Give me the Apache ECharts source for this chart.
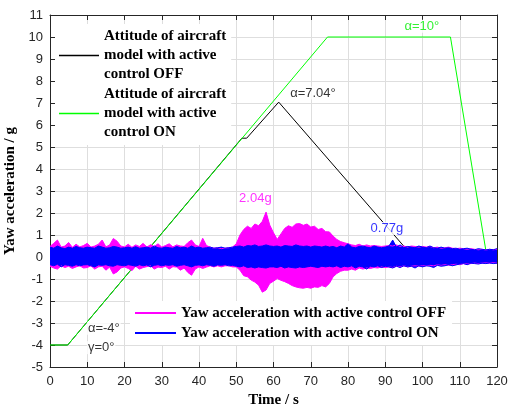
<!DOCTYPE html>
<html>
<head>
<meta charset="utf-8">
<script src="https://cdn.jsdelivr.net/npm/echarts@6/dist/echarts.min.js"></script>
<style>
  html, body { margin: 0; padding: 0; background: #fff; }
  #chart { width: 508px; height: 410px; }
</style>
</head>
<body>
<div id="chart"></div>
<script>
// attitude curves (time s, angle deg)
const offTime = [0, 4.75, 51.5, 52.8, 61.4, 97.5];
const offAngle = [-4, -4, 5.4, 5.4, 7.04, 0];
const onTime = [0, 4.75, 74.5, 107.5, 117.3];
const onAngle = [-4, -4, 10, 10, 0];

// yaw acceleration envelopes (g), one value per second, t = 0..120
const pinkUp = [
  0.48, 0.62, 0.77, 0.45, 0.50, 0.66, 0.44, 0.58, 0.46, 0.52,
  0.62, 0.45, 0.50, 0.58, 0.77, 0.46, 0.55, 0.84, 0.72, 0.50,
  0.46, 0.58, 0.44, 0.55, 0.48, 0.62, 0.45, 0.56, 0.48, 0.60,
  0.45, 0.52, 0.60, 0.46, 0.55, 0.50, 0.48, 0.65, 0.77, 0.55,
  0.48, 0.85, 0.52, 0.45, 0.40, 0.42, 0.38, 0.40, 0.42, 0.45,
  0.60, 1.00, 1.25, 1.40, 1.30, 1.50, 1.42, 1.62, 2.04, 1.45,
  1.10, 0.80, 1.05, 1.30, 1.42, 1.35, 1.50, 1.52, 1.44, 1.50,
  1.36, 1.40, 1.25, 1.30, 1.15, 1.14, 0.95, 0.80, 0.70, 0.65,
  0.60, 0.55, 0.52, 0.58, 0.50, 0.55, 0.50, 0.52, 0.50, 0.48,
  0.50, 0.52, 0.50, 0.55, 0.48, 0.50, 0.45, 0.50, 0.48, 0.45,
  0.48, 0.45, 0.48, 0.42, 0.45, 0.40, 0.42, 0.45, 0.40, 0.38,
  0.40, 0.38, 0.35, 0.38, 0.35, 0.33, 0.35, 0.32, 0.35, 0.33,
  0.35
];
const pinkLow = [
  -0.42, -0.50, -0.55, -0.40, -0.48, -0.42, -0.52, -0.45, -0.40, -0.50,
  -0.48, -0.40, -0.55, -0.45, -0.42, -0.60, -0.46, -0.77, -0.68, -0.50,
  -0.45, -0.52, -0.62, -0.42, -0.55, -0.48, -0.44, -0.40, -0.55, -0.46,
  -0.48, -0.42, -0.55, -0.44, -0.46, -0.60, -0.50, -0.70, -0.83, -0.55,
  -0.45, -0.52, -0.46, -0.40, -0.45, -0.40, -0.45, -0.40, -0.40, -0.45,
  -0.45, -0.60, -0.85, -0.90, -1.05, -1.14, -1.28, -1.60, -1.50, -1.20,
  -1.10, -0.98, -1.06, -1.12, -1.20, -1.30, -1.36, -1.40, -1.42, -1.38,
  -1.42, -1.36, -1.38, -1.30, -1.36, -1.20, -0.90, -0.75, -0.65, -0.60,
  -0.60, -0.55, -0.60, -0.50, -0.55, -0.50, -0.52, -0.48, -0.50, -0.45,
  -0.48, -0.45, -0.48, -0.42, -0.45, -0.40, -0.45, -0.42, -0.40, -0.42,
  -0.40, -0.40, -0.38, -0.40, -0.36, -0.38, -0.35, -0.38, -0.35, -0.33,
  -0.35, -0.30, -0.32, -0.30, -0.28, -0.30, -0.28, -0.27, -0.28, -0.26,
  -0.28
];
const blueUp = [
  0.45, 0.40, 0.50, 0.42, 0.38, 0.45, 0.40, 0.48, 0.42, 0.40,
  0.45, 0.42, 0.40, 0.50, 0.45, 0.40, 0.42, 0.48, 0.45, 0.40,
  0.42, 0.45, 0.40, 0.47, 0.40, 0.42, 0.45, 0.40, 0.50, 0.42,
  0.40, 0.45, 0.42, 0.40, 0.48, 0.42, 0.45, 0.40, 0.50, 0.42,
  0.45, 0.40, 0.42, 0.45, 0.40, 0.42, 0.45, 0.40, 0.42, 0.45,
  0.48, 0.50, 0.45, 0.52, 0.50, 0.55, 0.48, 0.50, 0.55, 0.50,
  0.48, 0.50, 0.45, 0.52, 0.50, 0.48, 0.55, 0.50, 0.48, 0.50,
  0.45, 0.50, 0.48, 0.45, 0.50, 0.45, 0.48, 0.42, 0.50, 0.45,
  0.60, 0.45, 0.42, 0.48, 0.50, 0.45, 0.42, 0.50, 0.45, 0.42,
  0.45, 0.50, 0.77, 0.45, 0.55, 0.42, 0.48, 0.45, 0.42, 0.50,
  0.45, 0.42, 0.50, 0.42, 0.40, 0.45, 0.40, 0.42, 0.38, 0.40,
  0.35, 0.38, 0.40, 0.35, 0.33, 0.38, 0.35, 0.32, 0.35, 0.33,
  0.38
];
const blueLow = [
  -0.35, -0.40, -0.33, -0.45, -0.35, -0.38, -0.42, -0.35, -0.40, -0.36,
  -0.35, -0.40, -0.45, -0.36, -0.38, -0.35, -0.40, -0.42, -0.35, -0.38,
  -0.40, -0.35, -0.38, -0.42, -0.35, -0.40, -0.36, -0.45, -0.38, -0.35,
  -0.40, -0.36, -0.38, -0.35, -0.42, -0.38, -0.35, -0.40, -0.45, -0.38,
  -0.36, -0.40, -0.35, -0.38, -0.42, -0.36, -0.38, -0.35, -0.40, -0.38,
  -0.42, -0.45, -0.40, -0.48, -0.45, -0.50, -0.45, -0.48, -0.50, -0.45,
  -0.45, -0.48, -0.42, -0.50, -0.45, -0.48, -0.50, -0.45, -0.48, -0.45,
  -0.42, -0.45, -0.48, -0.42, -0.45, -0.42, -0.45, -0.40, -0.48, -0.42,
  -0.45, -0.40, -0.50, -0.42, -0.45, -0.55, -0.42, -0.45, -0.40, -0.48,
  -0.42, -0.45, -0.50, -0.42, -0.48, -0.40, -0.45, -0.42, -0.50, -0.40,
  -0.45, -0.40, -0.42, -0.48, -0.38, -0.42, -0.40, -0.35, -0.40, -0.36,
  -0.32, -0.30, -0.35, -0.28, -0.30, -0.32, -0.28, -0.30, -0.27, -0.30,
  -0.28
];

const offName = 'Attitude of aircraft\nmodel with active\ncontrol OFF';
const onName = 'Attitude of aircraft\nmodel with active\ncontrol ON';
const pinkName = 'Yaw acceleration with active control OFF';
const blueName = 'Yaw acceleration with active control ON';

const serif = 'Liberation Serif';
const sans = 'Liberation Sans';

function pairs(xs, ys) {
  return xs.map((x, i) => [x, ys[i]]);
}

// noise band: upper and lower envelope, each filled to the zero line
function band(name, color, up, low) {
  const common = {
    type: 'line', symbol: 'none', color: color, z: 3,
    lineStyle: { width: 1 }, areaStyle: { color: color, opacity: 1, origin: 0 }
  };
  return [
    Object.assign({ name: name, data: up.map((v, i) => [i, v]) }, common),
    Object.assign({ data: low.map((v, i) => [i, v]), silent: true }, common)
  ];
}

const chart = echarts.init(document.getElementById('chart'));

const axisColor = '#262626';
const tickStyle = { show: true, inside: true, length: 5, lineStyle: { color: axisColor } };

function note(x, y, text, color) {
  return {
    value: [x, y],
    label: {
      show: true, formatter: text, color: color, position: 'right', distance: 0,
      fontFamily: sans, fontSize: 13, backgroundColor: '#fff', padding: [0, 1]
    }
  };
}

const option = {
  animation: false,
  grid: { left: 50, top: 15, right: 11, bottom: 43, outerBoundsMode: 'none' },
  xAxis: [
    {
      type: 'value', min: 0, max: 120, interval: 10, position: 'bottom',
      axisLine: { onZero: false, lineStyle: { color: axisColor } },
      axisTick: tickStyle,
      axisLabel: { margin: 8, fontSize: 13, fontFamily: sans, color: axisColor },
      splitLine: { show: true, lineStyle: { color: '#dedede' } },
      name: 'Time / s', nameLocation: 'middle', nameGap: 26,
      nameTextStyle: { fontFamily: serif, fontWeight: 'bold', fontSize: 15, color: '#000' }
    },
    {
      type: 'value', min: 0, max: 120, interval: 10, position: 'top',
      axisLine: { onZero: false, lineStyle: { color: axisColor } },
      axisTick: tickStyle, axisLabel: { show: false }, splitLine: { show: false }
    }
  ],
  yAxis: [
    {
      type: 'value', min: -5, max: 11, interval: 1, position: 'left',
      axisLine: { show: true, onZero: false, lineStyle: { color: axisColor } },
      axisTick: tickStyle,
      axisLabel: { margin: 7, fontSize: 13, fontFamily: sans, color: axisColor },
      splitLine: { show: true, lineStyle: { color: '#dedede' } },
      name: 'Yaw acceleration / g', nameLocation: 'middle', nameGap: 28,
      nameTextStyle: { fontFamily: serif, fontWeight: 'bold', fontSize: 15, color: '#000' }
    },
    {
      type: 'value', min: -5, max: 11, interval: 1, position: 'right',
      axisLine: { show: true, onZero: false, lineStyle: { color: axisColor } },
      axisTick: tickStyle, axisLabel: { show: false }, splitLine: { show: false }
    }
  ],
  legend: [
    {
      data: [offName, onName], orient: 'vertical', left: 55, top: 24,
      icon: 'rect', itemWidth: 40, itemHeight: 1.6, itemGap: 1,
      backgroundColor: '#fff', padding: [3, 5, 3, 4], selectedMode: false,
      textStyle: { fontFamily: serif, fontWeight: 'bold', fontSize: 15, lineHeight: 19, color: '#000' }
    },
    {
      data: [pinkName, blueName], orient: 'vertical', left: 130, top: 301,
      icon: 'rect', itemWidth: 41, itemHeight: 2, itemGap: 2,
      backgroundColor: '#fff', padding: [3, 6, 3, 5], selectedMode: false,
      textStyle: { fontFamily: serif, fontWeight: 'bold', fontSize: 15, lineHeight: 18, color: '#000' }
    }
  ],
  series: [
    {
      name: offName, type: 'line', data: pairs(offTime, offAngle), symbol: 'none',
      color: '#000000', lineStyle: { width: 1 }, z: 2
    },
    {
      name: onName, type: 'line', data: pairs(onTime, onAngle), symbol: 'none',
      color: '#00ff00', lineStyle: { width: 1 }, z: 2
    },
    ...band(pinkName, '#ff00ff', pinkUp, pinkLow),
    ...band(blueName, '#0000ff', blueUp, blueLow),
    {
      type: 'scatter', symbolSize: 0, silent: true, z: 5,
      data: [
        note(94.9, 10.49, 'α=10°', '#00ee00'),
        note(64.2, 7.45, 'α=7.04°', '#000'),
        note(50.5, 2.65, '2.04g', '#ff00ff'),
        note(85.8, 1.3, '0.77g', '#0000ff'),
        note(9.9, -3.24, 'α=-4°', '#000'),
        note(9.9, -4.12, 'γ=0°', '#000')
      ]
    }
  ]
};

chart.setOption(option);
</script>
</body>
</html>
